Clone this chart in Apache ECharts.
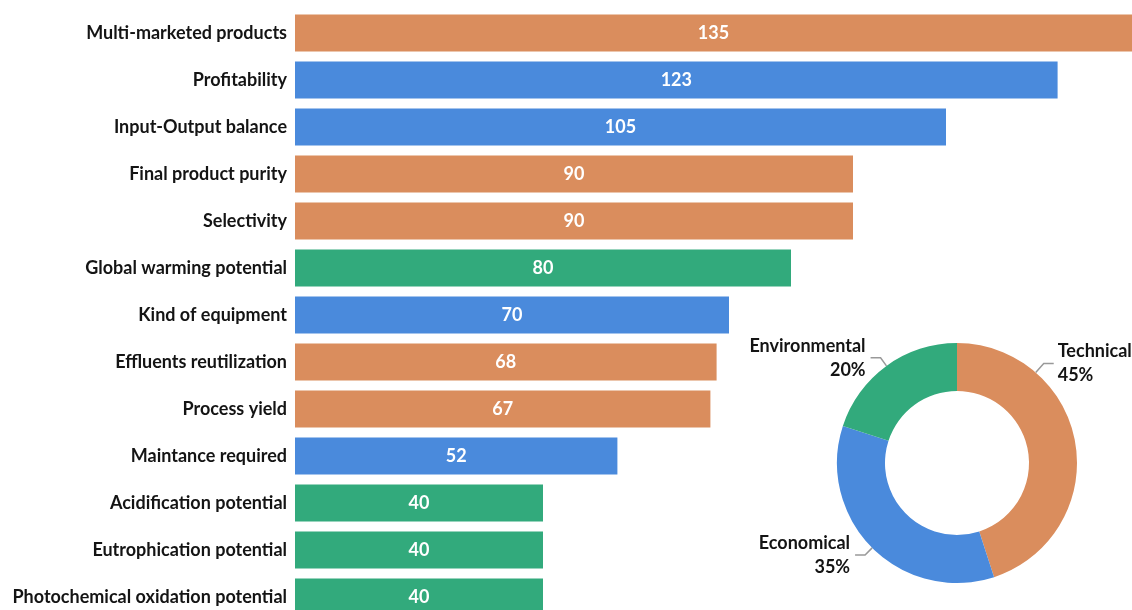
<!DOCTYPE html>
<html>
<head>
<meta charset="utf-8">
<script src="https://cdn.jsdelivr.net/npm/echarts@6/dist/echarts.min.js"></script>
<style>
html, body { margin: 0; padding: 0; background: #fff; }
#main { width: 1132px; height: 610px; }
</style>
</head>
<body>
<div id="main"></div>
<script>
var categories = [
    'Multi-marketed products', 'Profitability', 'Input-Output balance',
    'Final product purity', 'Selectivity', 'Global warming potential',
    'Kind of equipment', 'Effluents reutilization', 'Process yield',
    'Maintance required', 'Acidification potential', 'Eutrophication potential',
    'Photochemical oxidation potential'
];
var values = [135, 123, 105, 90, 90, 80, 70, 68, 67, 52, 40, 40, 40];
var groups = ['T', 'E', 'E', 'T', 'T', 'N', 'E', 'T', 'T', 'E', 'N', 'N', 'N'];

var pieNames = ['Technical', 'Economical', 'Environmental'];
var pieValues = [45, 35, 20];

var colors = { T: '#DA8D5D', E: '#4A8ADC', N: '#32AA7C' };
var pieColors = [colors.T, colors.E, colors.N];

var font = 'Lato, "Open Sans", sans-serif';
var pieCenter = [957, 463];
var pieOuter = 120;

var chart = echarts.init(document.getElementById('main'));
var option = {
    animation: false,
    grid: { left: 295, right: 0, top: 9.5, height: 611, outerBoundsMode: 'none' },
    xAxis: {
        type: 'value',
        min: 0,
        max: 135,
        show: false
    },
    yAxis: {
        type: 'category',
        inverse: true,
        data: categories,
        axisLine: { show: false },
        axisTick: { show: false },
        axisLabel: {
            margin: 8,
            color: '#141414',
            fontFamily: font,
            fontWeight: 'bold',
            fontSize: 18
        }
    },
    series: [
        {
            type: 'bar',
            barWidth: 37,
            data: values.map(function (v, i) {
                return { value: v, itemStyle: { color: colors[groups[i]] } };
            }),
            label: {
                show: true,
                position: 'inside',
                color: '#fff',
                fontFamily: font,
                fontWeight: 'bold',
                fontSize: 18
            }
        },
        {
            type: 'pie',
            center: pieCenter,
            radius: [72, pieOuter],
            startAngle: 90,
            data: pieNames.map(function (n, i) {
                return { name: n, value: pieValues[i], itemStyle: { color: pieColors[i] } };
            }),
            label: {
                formatter: '{b}\n{d}%',
                color: '#141414',
                fontFamily: font,
                fontWeight: 'bold',
                fontSize: 18,
                lineHeight: 24,
                overflow: 'none'
            },
            labelLine: {
                length: 10,
                length2: 10,
                lineStyle: { color: '#999', width: 1.5 }
            },
            // the Technical label sits up at the top-right, like the original
            labelLayout: function (p) {
                if (p.dataIndex !== 0) return {};
                var a = 41 * Math.PI / 180;
                var x0 = pieCenter[0] + pieOuter * Math.sin(a);
                var y0 = pieCenter[1] - pieOuter * Math.cos(a);
                var x1 = x0 + 8, y1 = y0 - 9, x2 = x1 + 10;
                return {
                    x: x2 + 4, y: y1, align: 'left', verticalAlign: 'middle',
                    labelLinePoints: [[x0, y0], [x1, y1], [x2, y1]]
                };
            }
        }
    ]
};

chart.setOption(option);
</script>
</body>
</html>
